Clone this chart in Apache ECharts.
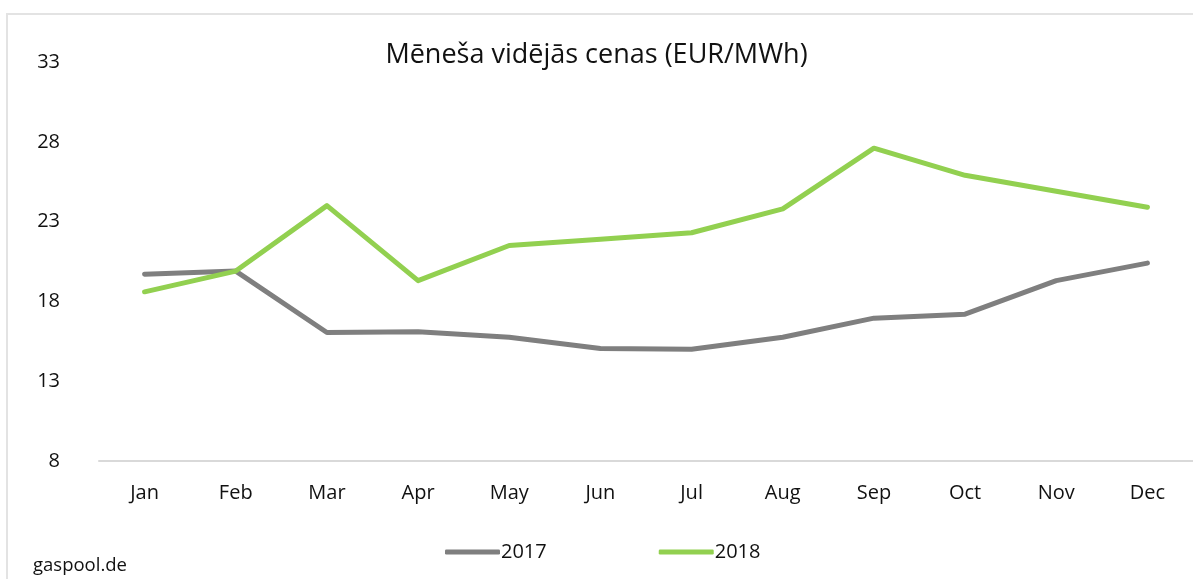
<!DOCTYPE html>
<html style="height:100%">
<head>
<meta charset="utf-8" />
<title>Mēneša vidējās cenas</title>
<script src="https://cdn.jsdelivr.net/npm/echarts@6/dist/echarts.min.js"></script>
</head>
<body style="margin:0;height:100%;width:100%;background:#fff">
<div id="chartmain" style="width:1193px;height:579px;"></div>
<script type="text/javascript">
    var months = ['Jan','Feb','Mar','Apr','May','Jun','Jul','Aug','Sep','Oct','Nov','Dec'];
    var prices2017 = [19.7, 19.9, 16.05, 16.1, 15.75, 15.05, 15.0, 15.75, 16.95, 17.2, 19.3, 20.4];
    var prices2018 = [18.6, 19.9, 24.0, 19.3, 21.5, 21.9, 22.3, 23.8, 27.6, 25.9, 24.9, 23.9];
    var yTicks = [8, 13, 18, 23, 28, 33];

    var FONT = "'Open Sans', 'Noto Sans', sans-serif";
    var myChart = echarts.init(document.getElementById('chartmain'));
    var option = {
        backgroundColor: '#fff',
        animation: false,
        title: {
            text: 'Mēneša vidējās cenas (EUR/MWh)',
            left: 'center',
            top: 37,
            textStyle: { fontFamily: FONT, fontSize: 27, fontWeight: 'normal', color: '#111' }
        },
        graphic: [
            { type: 'rect', shape: { x: 7, y: 14, width: 1200, height: 600 }, style: { fill: 'none', stroke: '#e3e3e3', lineWidth: 2 }, z: -1 },
            { type: 'text', left: 33, top: 556, style: { text: 'gaspool.de', font: '18.5px ' + FONT, fill: '#111' } }
        ],
        legend: {
            left: 440,
            top: 537,
            itemWidth: 55,
            itemHeight: 5,
            itemGap: 112,
            icon: 'roundRect',
            textStyle: { fontFamily: FONT, fontSize: 20, color: '#111', padding: [0, 0, 0, -4] },
            data: ['2017', '2018']
        },
        grid: { left: 99, right: -8, top: 62, bottom: 118 },
        xAxis: {
            type: 'category',
            data: months,
            boundaryGap: true,
            axisLine: { lineStyle: { color: '#d9d9d9', width: 2 } },
            axisTick: { show: false },
            axisLabel: { fontFamily: FONT, fontSize: 20, color: '#111', margin: 22 }
        },
        yAxis: {
            type: 'value',
            min: yTicks[0],
            max: yTicks[yTicks.length - 1],
            interval: 5,
            splitLine: { show: false },
            axisLine: { show: false },
            axisTick: { show: false },
            axisLabel: { fontFamily: FONT, fontSize: 20, color: '#111', margin: 39 }
        },
        series: [
            {
                name: '2017', type: 'line', data: prices2017, symbol: 'none',
                itemStyle: { color: '#7f7f7f' },
                lineStyle: { color: '#7f7f7f', width: 5, cap: 'round', join: 'round' }
            },
            {
                name: '2018', type: 'line', data: prices2018, symbol: 'none',
                itemStyle: { color: '#92d050' },
                lineStyle: { color: '#92d050', width: 5, cap: 'round', join: 'round' }
            }
        ]
    };
    myChart.setOption(option);
</script>
</body>
</html>
